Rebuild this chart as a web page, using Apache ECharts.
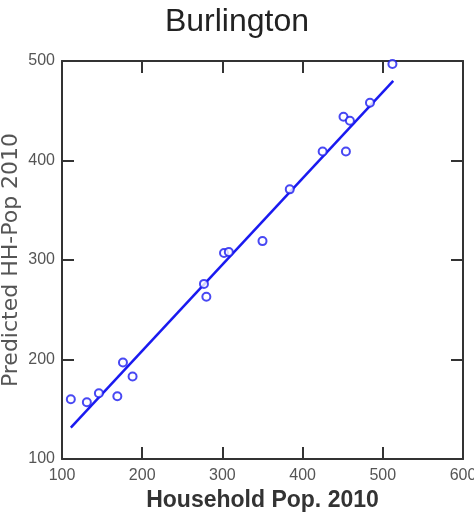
<!DOCTYPE html>
<html><head><meta charset="utf-8">
<script src="https://cdn.jsdelivr.net/npm/echarts@6/dist/echarts.min.js"></script>
<style>html,body{margin:0;padding:0;background:#fff}#c{width:474px;height:512px}</style>
</head><body><div id="c"></div>
<script>
const householdPop = [512, 484, 451, 459, 454, 425, 384, 350, 302, 308, 277, 280, 176, 188, 111, 131, 146, 169];
const predictedPop = [497, 458, 444, 440, 409, 409, 371, 319, 307, 308, 276, 263, 197, 183, 160, 157, 166, 163];
const fitX = [111, 513];
const fitY = [131.5, 480];
const xTicks = [100, 200, 300, 400, 500, 600];
const yTicks = [100, 200, 300, 400, 500];

const chart = echarts.init(document.getElementById('c'));
const blue = '#1a1af0';
const axisCol = '#333';
const font = 'Liberation Sans, Arial, sans-serif';
const common = {
  axisLine: {show: true, lineStyle: {color: axisCol, width: 2}},
  axisTick: {show: true, inside: true, length: 12, lineStyle: {color: axisCol, width: 2}},
  splitLine: {show: false}
};
chart.setOption({
  animation: false,
  title: {text: 'Burlington', left: 'center', top: 1, textStyle: {fontFamily: font, fontSize: 32, fontWeight: 'normal', color: '#222'}},
  grid: {left: 62, right: 11, top: 61, bottom: 53, containLabel: false, outerBoundsMode: 'none'},
  xAxis: [
    Object.assign({type: 'value', min: xTicks[0], max: xTicks[xTicks.length-1], interval: 100,
      name: 'Household Pop. 2010', nameLocation: 'middle', nameGap: 30, nameMoveOverlap: false,
      nameTextStyle: {fontFamily: font, fontSize: 23, fontWeight: 'bold', color: '#333'},
      axisLabel: {fontFamily: font, fontSize: 16, color: '#555', margin: 9, showMinLabel: true, showMaxLabel: true}}, common),
    Object.assign({type: 'value', position: 'top', min: xTicks[0], max: xTicks[xTicks.length-1], interval: 100,
      axisLabel: {show: false}}, common)
  ],
  yAxis: [
    Object.assign({type: 'value', min: yTicks[0], max: yTicks[yTicks.length-1], interval: 100,
      name: 'Predicted HH-Pop 2010', nameLocation: 'middle', nameGap: 40, nameMoveOverlap: false,
      nameTextStyle: {fontFamily: 'DejaVu Sans, sans-serif', fontSize: 22, color: '#555'},
      axisLabel: {fontFamily: font, fontSize: 16, color: '#555', margin: 7}}, common),
    Object.assign({type: 'value', position: 'right', min: yTicks[0], max: yTicks[yTicks.length-1], interval: 100,
      axisLabel: {show: false}}, common)
  ],
  series: [
    {type: 'line', data: fitX.map((x, i) => [x, fitY[i]]), symbol: 'none',
     lineStyle: {color: blue, width: 2.5}, z: 2},
    {type: 'scatter', data: householdPop.map((x, i) => [x, predictedPop[i]]), symbol: 'emptyCircle', symbolSize: 8,
     itemStyle: {color: blue, borderColor: blue, borderWidth: 2.5}, z: 3}
  ]
});
</script></body></html>
